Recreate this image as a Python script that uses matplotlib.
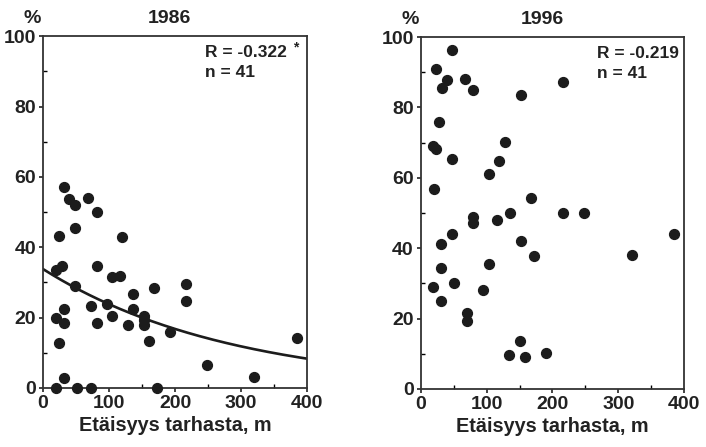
import numpy as np
import matplotlib
matplotlib.use("Agg")
import matplotlib.pyplot as plt
from matplotlib.ticker import MultipleLocator

plt.rcParams["font.family"] = ["Liberation Sans", "DejaVu Sans"]
plt.rcParams["font.weight"] = "bold"

# distance from enclosure (m) and share (%), 1986
dist_1986 = [20, 52, 72, 172, 32, 20, 24, 32, 32, 20, 28, 24, 32, 40, 49, 49, 49,
             68.5, 81, 81, 72, 81, 97, 104, 105, 117, 120, 128, 136.5, 136.5,
             152.6, 152.6, 152.6, 160.7, 168.8, 192.4, 217, 217, 248, 320, 384]
pct_1986 = [0, 0, 0, 0, 2.7, 20, 12.7, 18.6, 22.4, 33.5, 34.8, 43.3, 57, 53.6, 52,
            45.5, 28.9, 54, 50, 34.6, 23.3, 18.5, 24, 31.5, 20.6, 31.8, 43, 17.8,
            26.6, 22.4, 20.6, 19.2, 17.8, 13.5, 28.5, 15.9, 29.6, 24.8, 6.6, 3.1, 14.2]

# 1996
dist_1996 = [47.6, 23.8, 40, 31.9, 67.8, 80, 151.9, 215.7, 27.8, 18.7, 23.8, 47.6,
             127.6, 119.5, 103.3, 19.7, 168, 135.7, 215.7, 247.6, 79.5, 79.5, 115.4,
             47.6, 31.4, 151.9, 172, 321, 384.8, 31.4, 103.3, 18.7, 51.1, 95.2,
             31.4, 70.9, 70.9, 150.9, 134.7, 159, 190.9]
pct_1996 = [96.2, 90.8, 87.9, 85.6, 88.1, 85, 83.6, 87.3, 76, 69.1, 68.1, 65.4,
            70.1, 64.8, 61.2, 56.9, 54.2, 50, 50, 50, 48.9, 47.1, 47.9, 44, 41.1,
            41.9, 37.9, 38, 43.9, 34.5, 35.5, 28.9, 30, 28, 25, 21.7, 19.4, 13.5,
            9.6, 9, 10.2]

# exponential fit shown for 1986: y = a * exp(-b * x)
fit_a = 33.8
fit_b = 0.0035

panels = [
    ("1986", dist_1986, pct_1986, "R = -0.322", True),
    ("1996", dist_1996, pct_1996, "R = -0.219", False),
]
positions = [[0.061, 0.132, 0.374, 0.787], [0.596, 0.130, 0.373, 0.787]]

fig = plt.figure(figsize=(7.06, 4.47), dpi=100)
dark = "#1c1c1c"
txt = "#222222"

for (year, xs, ys, rtext, fitted), pos in zip(panels, positions):
    ax = fig.add_axes(pos)
    ax.scatter(xs, ys, s=50, color=dark, zorder=3, clip_on=False)
    if fitted:
        xx = np.linspace(0, 400, 200)
        ax.plot(xx, fit_a * np.exp(-fit_b * xx), color=dark, lw=1.9, zorder=2)
    ax.set_xlim(0, 400)
    ax.set_ylim(0, 100)
    ax.xaxis.set_major_locator(MultipleLocator(100))
    ax.xaxis.set_minor_locator(MultipleLocator(50))
    ax.yaxis.set_major_locator(MultipleLocator(20))
    ax.yaxis.set_minor_locator(MultipleLocator(10))
    ax.tick_params(which="major", direction="out", length=3, width=1.2,
                   labelsize=14, pad=2, colors=txt)
    ax.tick_params(which="minor", direction="in", length=3, width=1.0)
    for lab in ax.get_xticklabels() + ax.get_yticklabels():
        lab.set_fontweight("bold")
    for sp in ax.spines.values():
        sp.set_linewidth(1.3)
        sp.set_color("#333333")
    ax.set_xlabel("Etäisyys tarhasta, m", fontsize=14.3, fontweight="bold",
                  labelpad=3, color=txt)
    ty = 0.48 if fitted else 0.46
    ax.text(ty, 1.037, year, transform=ax.transAxes, ha="center",
            va="baseline", fontsize=14, fontweight="bold", color=txt)
    ax.text(-0.042, 1.037, "%", transform=ax.transAxes, ha="center",
            va="baseline", fontsize=14, fontweight="bold", color=txt)
    tx = 0.615 if fitted else 0.669
    ax.text(tx, 0.94, rtext, transform=ax.transAxes, ha="left", va="baseline",
            fontsize=12.5, fontweight="bold", color=txt)
    if fitted:
        ax.text(0.945, 0.958, "*", transform=ax.transAxes, ha="left",
                va="baseline", fontsize=10, fontweight="bold", color=txt)
    ax.text(tx, 0.883, "n = 41", transform=ax.transAxes, ha="left",
            va="baseline", fontsize=12.5, fontweight="bold", color=txt)

fig.savefig("out.png", dpi=100)
